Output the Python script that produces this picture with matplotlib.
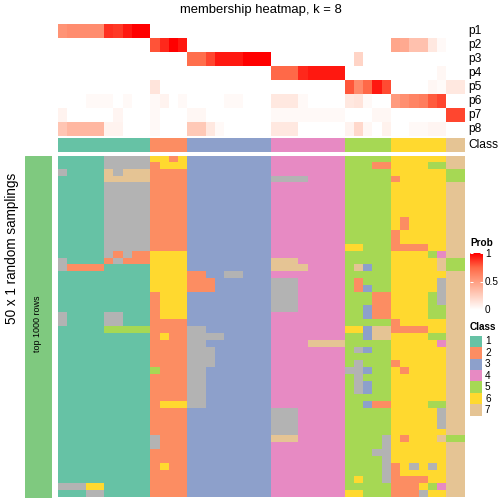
import numpy as np
import matplotlib
matplotlib.use("Agg")
import matplotlib.pyplot as plt
from matplotlib.colors import ListedColormap, LinearSegmentedColormap
from matplotlib.patches import Rectangle

plt.rcParams['font.family'] = ['Liberation Sans', 'DejaVu Sans']

W, H = 504, 504

# Set2 colours for classes 1..7, last one (gray) is the 8th class
class_colors = ['#66C2A5', '#FC8D62', '#8DA0CB', '#E78AC3', '#A6D854', '#FFD92F', '#E5C494', '#B3B3B3']
class_labels = ['1', '2', '3', '4', '5', '6', '7']
row_names = ['p1', 'p2', 'p3', 'p4', 'p5', 'p6', 'p7', 'p8']

column_class = [1, 1, 1, 1, 1, 1, 1, 1, 1, 1,
                2, 2, 2, 2,
                3, 3, 3, 3, 3, 3, 3, 3, 3,
                4, 4, 4, 4, 4, 4, 4, 4,
                5, 5, 5, 5, 5,
                6, 6, 6, 6, 6, 6,
                7, 7]

# membership probabilities (top annotation), groups of columns per class
p1 = [0.55, 0.58, 0.58, 0.58, 0.58, 0.88, 0.86, 0.94, 1, 1,  0, 0, 0, 0,
      0, 0, 0, 0, 0, 0, 0, 0, 0,  0, 0, 0, 0, 0, 0, 0, 0,  0, 0, 0, 0, 0,
      0, 0, 0, 0, 0, 0,  0, 0]
p2 = [0, 0, 0, 0, 0, 0, 0, 0, 0, 0,  0.8, 0.9, 1, 0.94,
      0, 0, 0, 0, 0, 0, 0, 0, 0,  0, 0, 0, 0, 0, 0, 0, 0,  0, 0, 0, 0, 0,
      0.46, 0.44, 0.32, 0.32, 0.12, 0.03,  0, 0]
p3 = [0, 0, 0, 0, 0, 0, 0, 0, 0, 0,  0, 0, 0, 0,
      0.72, 0.72, 0.83, 0.94, 0.94, 0.94, 1, 1, 1,  0, 0, 0, 0, 0, 0, 0, 0,
      0, 0.22, 0, 0, 0,  0, 0, 0, 0, 0, 0,  0, 0]
p4 = [0, 0, 0, 0, 0, 0, 0, 0, 0, 0,  0, 0, 0, 0,
      0, 0, 0, 0, 0, 0, 0, 0, 0,  0.74, 0.74, 0.74, 0.9, 0.94, 0.94, 0.94, 0.94,
      0, 0, 0, 0, 0,  0, 0, 0, 0, 0, 0.04,  0, 0]
p5 = [0, 0, 0, 0, 0, 0, 0, 0, 0, 0,  0.14, 0, 0, 0,
      0, 0, 0, 0, 0, 0, 0, 0, 0,  0, 0, 0, 0, 0, 0, 0, 0,
      0.79, 0.59, 0.74, 0.94, 0.82,  0, 0, 0, 0, 0.04, 0.02,  0.12, 0.12]
p6 = [0, 0, 0, 0.03, 0.03, 0.03, 0, 0.03, 0, 0,  0.03, 0.06, 0, 0.03,
      0, 0, 0, 0, 0.03, 0.03, 0, 0, 0,  0.12, 0.12, 0.12, 0.03, 0, 0, 0, 0,
      0.12, 0.14, 0.03, 0, 0,  0.51, 0.57, 0.62, 0.65, 0.78, 0.83,  0, 0]
p7 = [0.06, 0, 0, 0, 0, 0, 0.05, 0, 0, 0,  0.03, 0, 0, 0,
      0.04, 0.04, 0, 0, 0, 0, 0, 0, 0,  0.03, 0.03, 0.03, 0.03, 0.03, 0.03, 0.03, 0.03,
      0, 0, 0, 0.04, 0.04,  0, 0, 0, 0, 0, 0,  0.83, 0.83]
p8 = [0.3, 0.37, 0.37, 0.37, 0.37, 0.06, 0.06, 0, 0, 0,  0.03, 0, 0, 0,
      0.28, 0.28, 0.12, 0.03, 0, 0, 0, 0, 0,  0.12, 0.12, 0.12, 0, 0, 0, 0, 0,
      0.06, 0.2, 0.04, 0, 0.07,  0, 0, 0.03, 0.03, 0.05, 0.05,  0, 0]

# class of each column in each random sampling, 8 = unassigned (gray)
samplings = [
    "1111188888 6626 333333333 44444444 55555 666666 77",
    "1111188888 2666 333333333 44444444 55522 666655 77",
    "8111178777 2222 333333333 44444444 55555 666666 55",
    "1111177777 2222 333333333 88884444 55555 266666 55",
    "1111188888 2222 333333333 44444444 55555 666666 77",
    "1111188888 2222 333333333 44444444 55555 666666 77",
    "1111188888 2222 333333333 44444444 55555 666666 77",
    "1111188888 2222 333333333 44444444 55555 666666 77",
    "1111188888 2222 333333333 44444444 55555 666666 77",
    "1111188888 2222 333333333 44444444 55555 626666 77",
    "1111188888 2222 333333333 44444444 55555 626666 77",
    "1111188888 2222 333333333 44444444 55555 266666 77",
    "1111188888 2222 333333333 44444444 55555 266666 77",
    "1111188888 2222 333333333 44444444 66555 222266 77",
    "1111182822 6666 333333333 44444444 55555 666654 77",
    "8111128222 6666 333333333 77744444 55555 666667 55",
    "8222211111 6666 333333333 77774444 57355 666667 55",
    "1111111111 6666 223388333 44444444 55555 666666 77",
    "1111111111 6666 222333333 88844444 52555 666668 77",
    "1111111111 6666 222333333 88844444 52355 666668 77",
    "1111111111 2666 333333333 88844444 55522 666658 77",
    "1111111111 2666 333333333 88844444 55522 666658 77",
    "1111111111 2666 333333333 88844444 55322 666655 77",
    "8111188111 2666 333333333 44444444 55322 666655 77",
    "8111188111 2222 333333333 44444444 55555 266666 77",
    "1111155555 2222 883333333 44444444 66377 222266 77",
    "1111111111 2622 888833333 44444444 55377 666655 77",
    "1111111111 2222 883333333 44447777 55555 666664 77",
    "1111111111 2222 888333333 44444444 58355 666666 77",
    "1111111111 2222 888333333 44444444 55555 666666 77",
    "1111111111 2222 888333333 44444444 58555 266666 77",
    "1111111111 5222 883333333 44444444 88355 626666 77",
    "1111111111 2222 883333333 44444444 58555 666666 77",
    "1111111111 2222 883333333 44444444 58355 666666 77",
    "1111111111 2222 883333333 44444444 58355 666666 77",
    "1111111111 2222 883333333 44444444 55555 666666 77",
    "1111111111 2666 883333333 44444444 55322 666655 77",
    "1111111111 2222 333333333 88844444 55555 666668 77",
    "1111111111 2222 333333333 88844444 55555 666668 77",
    "1111111111 2222 333333333 88844444 55555 666668 77",
    "1111111111 2222 333333333 88844444 55555 666666 77",
    "1111111111 8222 333333333 77744444 55558 626667 55",
    "1111111111 8222 333333333 44444444 55558 666666 77",
    "1111111111 2222 333333333 44444444 55588 666666 77",
    "1111111111 2222 333333333 44444444 55558 666666 77",
    "1111111111 2622 333333333 44444444 55558 268686 77",
    "1111111111 2222 333333333 44444444 55558 266666 77",
    "1111111111 2222 333333333 44444444 56558 222266 77",
    "8886611111 2222 333333333 44444444 55555 222654 77",
    "1118811111 2222 333333333 44444444 66555 222866 77",
]

# white -> red ramp (interpolated in LAB like ComplexHeatmap)
prob_cmap = LinearSegmentedColormap.from_list(
    "prob", [(0, '#FFFFFF'), (0.25, '#FFCFBF'), (0.5, '#FF9E81'), (0.75, '#FF6846'), (1, '#FF0000')])
class_cmap = ListedColormap(class_colors)

fig = plt.figure(figsize=(W / 72, H / 72), dpi=72)


def px_axes(x0, y0, x1, y1):
    ax = fig.add_axes([x0 / W, 1 - y1 / H, (x1 - x0) / W, (y1 - y0) / H])
    ax.set_axis_off()
    return ax


hm_left, hm_right = 58, 465

# top annotation
probs = np.array([p1, p2, p3, p4, p5, p6, p7, p8])
ax_top = px_axes(hm_left, 24, hm_right, 136)
ax_top.imshow(probs, cmap=prob_cmap, vmin=0, vmax=1, aspect='auto', interpolation='nearest')

ax_cls = px_axes(hm_left, 138, hm_right, 152.5)
ax_cls.imshow(np.array([column_class]) - 1, cmap=class_cmap, vmin=-0.5, vmax=7.5,
              aspect='auto', interpolation='nearest')

# main heatmap
mat = np.array([[int(ch) for ch in row.replace(" ", "")] for row in samplings]) - 1
ax_hm = px_axes(hm_left, 155.5, hm_right, 497.5)
ax_hm.imshow(mat, cmap=class_cmap, vmin=-0.5, vmax=7.5, aspect='auto', interpolation='nearest')

# row annotation
ax_row = px_axes(24.5, 155.5, 51.5, 497.5)
ax_row.add_patch(Rectangle((0, 0), 1, 1, color='#7FC97F', transform=ax_row.transAxes))

# legend colour bar
ax_cb = px_axes(470, 253, 482.5, 310)
grad = np.linspace(1, 0, 100).reshape(-1, 1)
ax_cb.imshow(grad, cmap=prob_cmap, vmin=0, vmax=1, aspect='auto', extent=[0, 1, 0, 1])
ax_cb.set_xlim(0, 1)
ax_cb.set_ylim(0, 1)
for v in [0, 0.5, 1]:
    ax_cb.plot([0, 0.2], [v, v], color='white', lw=1, solid_capstyle='butt')
    ax_cb.plot([0.8, 1], [v, v], color='white', lw=1, solid_capstyle='butt')

# text layer
ax_txt = px_axes(0, 0, W, H)
ax_txt.set_xlim(0, W)
ax_txt.set_ylim(H, 0)
ax_txt.patch.set_alpha(0)

ax_txt.text(261, 10, "membership heatmap, k = 8", fontsize=13, ha='center', va='center')
for i, name in enumerate(row_names):
    ax_txt.text(468, 24 + 14 * i + 7, name, fontsize=12, ha='left', va='center')
ax_txt.text(468, 145.5, "Class", fontsize=12, ha='left', va='center')

ax_txt.text(12, 248, "50 x 1 random samplings", fontsize=13.5, rotation=90, ha='center', va='center')
ax_txt.text(38, 324, "top 1000 rows", fontsize=9, rotation=90, ha='center', va='center')

ax_txt.text(470, 243, "Prob", fontsize=10, fontweight='bold', ha='left', va='center')
for v, lab in zip([0, 0.5, 1], ['0', '0.5', '1']):
    ax_txt.text(485, 310 - 56 * v, lab, fontsize=10, ha='left', va='center')

ax_txt.text(470, 327, "Class", fontsize=10, fontweight='bold', ha='left', va='center')
for i, lab in enumerate(class_labels):
    yc = 341.5 + 11.4 * i
    ax_txt.add_patch(Rectangle((470, yc - 5.7), 12, 11.4, color=class_colors[i], lw=0))
    ax_txt.text(485, yc, lab, fontsize=10, ha='left', va='center')

fig.savefig("out.png", dpi=72)
